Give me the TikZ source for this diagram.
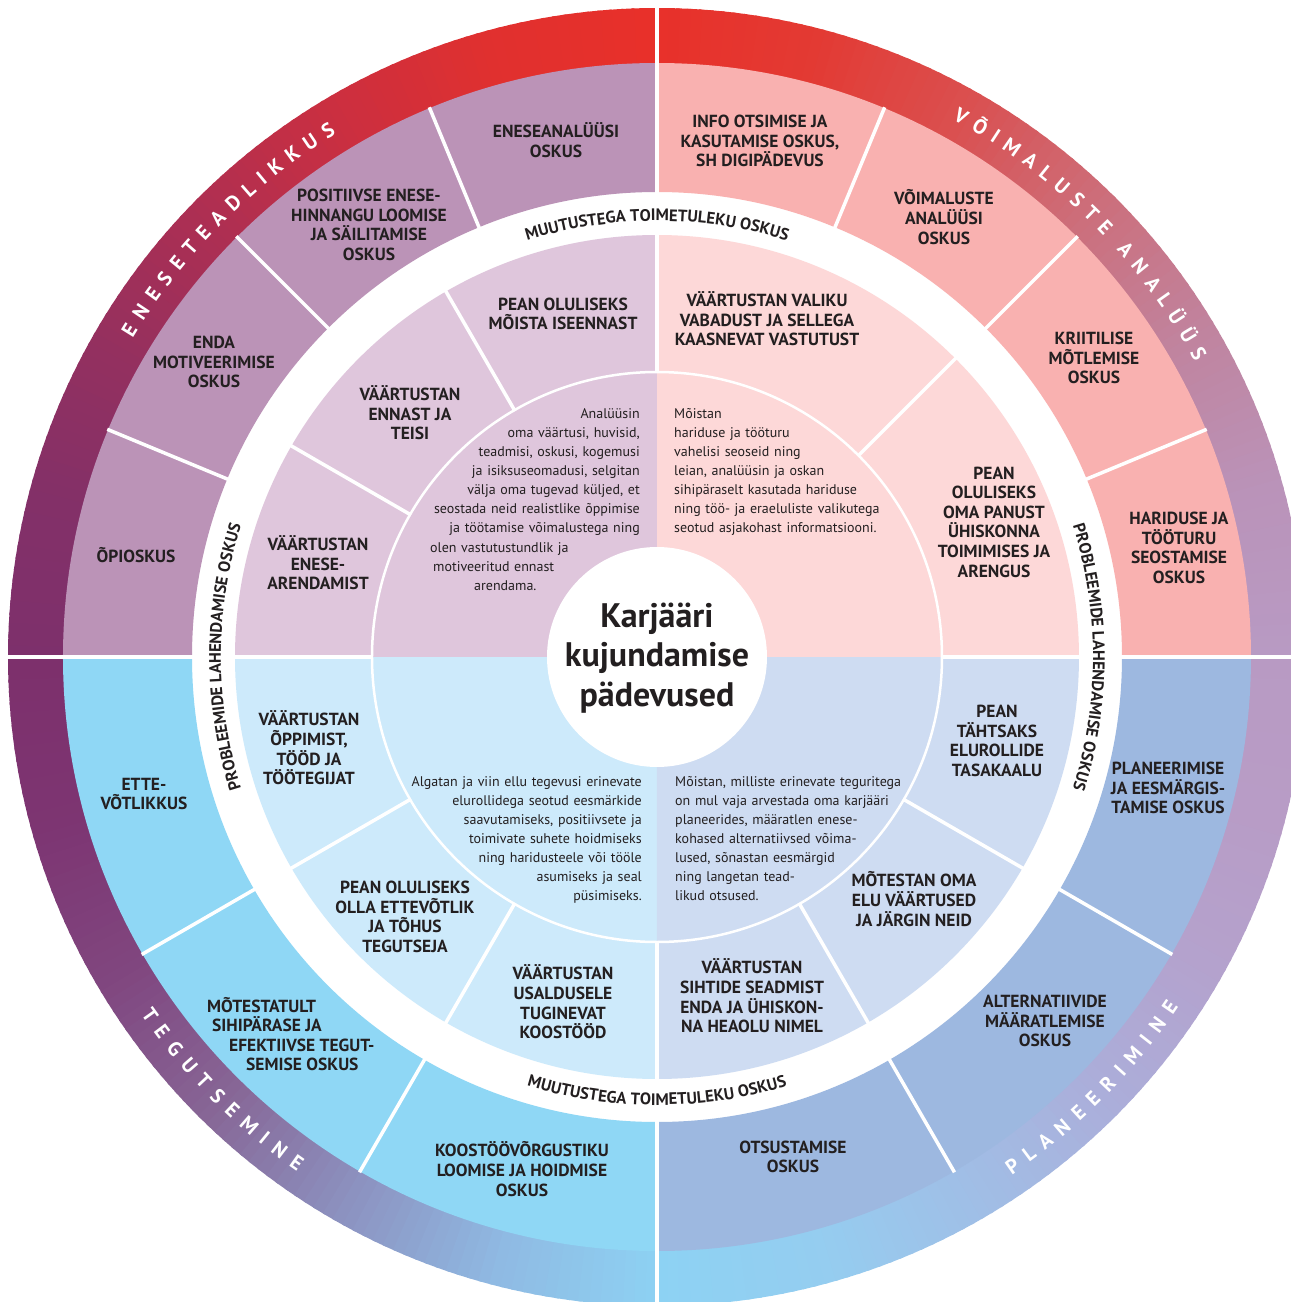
\documentclass[tikz,border=0pt]{standalone}
\usepackage{fontspec}
\setmainfont{PT Sans}
\usetikzlibrary{decorations.text}

\definecolor{ink}{HTML}{231F20}
\definecolor{olTL}{HTML}{BB93B7}
\definecolor{olTR}{HTML}{F9B1B0}
\definecolor{olBR}{HTML}{9DB8E0}
\definecolor{olBL}{HTML}{8FD7F5}
\definecolor{inTL}{HTML}{DFC6DC}
\definecolor{inTR}{HTML}{FDD8D8}
\definecolor{inBR}{HTML}{CEDCF2}
\definecolor{inBL}{HTML}{CDEAFB}
% band key colours every 15 degrees
\definecolor{K0}{HTML}{B89AC3}
\definecolor{K1}{HTML}{BA93B9}
\definecolor{K2}{HTML}{C0849F}
\definecolor{K3}{HTML}{CC6F7C}
\definecolor{K4}{HTML}{DA5050}
\definecolor{K5}{HTML}{E33A33}
\definecolor{K6}{HTML}{E8302A}
\definecolor{K7}{HTML}{E0302F}
\definecolor{K8}{HTML}{CB2F40}
\definecolor{K9}{HTML}{AE2F52}
\definecolor{K10}{HTML}{94305F}
\definecolor{K11}{HTML}{833068}
\definecolor{K12}{HTML}{7D306C}
\definecolor{K13}{HTML}{7D3572}
\definecolor{K14}{HTML}{80467F}
\definecolor{K15}{HTML}{876696}
\definecolor{K16}{HTML}{8C92C0}
\definecolor{K17}{HTML}{8FBAE3}
\definecolor{K18}{HTML}{8DD2F3}
\definecolor{K19}{HTML}{95CDF0}
\definecolor{K20}{HTML}{A0BEE6}
\definecolor{K21}{HTML}{ABAEDA}
\definecolor{K22}{HTML}{B4A2CD}
\definecolor{K23}{HTML}{B89CC6}
\definecolor{K24}{HTML}{B89AC3}

\newcommand\bandsize{20.5}
\newcommand\bandfont{\bfseries\fontsize{20.5}{20.5}\selectfont}
\newcommand\ringfont{\bfseries\fontsize{16.6}{16.6}\selectfont}
\newcommand\bandtrack{9}

% #1 name prefix, #2 mid angle, #3 baseline radius, #4 direction (1 ccw, -1 cw),
% #5 list letter/width(em)
\newcommand\bandtext[5]{%
  \gdef\bandtot{0}%
  \foreach \c/\w in {#5}{%
    \pgfmathsetmacro\bandtmp{\bandtot+\w*\bandsize+\bandtrack}\xdef\bandtot{\bandtmp}}%
  \gdef\bandcum{0}%
  \foreach \c/\w [count=\i] in {#5}{%
    \pgfmathsetmacro\bandoff{\bandcum+\w*\bandsize/2-(\bandtot-\bandtrack)/2}%
    \pgfmathsetmacro\bandang{#2+#4*\bandoff/#3*180/pi}%
    \pgfmathsetmacro\bandrot{\bandang+#4*90}%
    \node[bandletter, rotate=\bandrot] (#1\i) at (\bandang:#3) {\c};%
    \pgfmathsetmacro\bandtmp{\bandcum+\w*\bandsize+\bandtrack}\xdef\bandcum{\bandtmp}%
  }%
}

\begin{document}
\begin{tikzpicture}[x=1pt,y=1pt,
  bandletter/.style={font=\bandfont, text=white, anchor=base, inner sep=0pt},
  lbl/.style={font=\bfseries\fontsize{17.5}{19.6}\selectfont, align=center, text=ink, inner sep=0pt},
  para/.style={font=\fontsize{14}{19.1}\selectfont, text=ink, inner sep=0pt, text width=260pt},
  crossline/.style={white, line width=4.5pt},
  sepline/.style={white, line width=3.5pt},
  ringtext/.style={decorate, decoration={text along path, text align=center, text color=ink}}]
\useasboundingbox (-657,-645) rectangle (634,657);
\clip (-657,-645) rectangle (634,657);
\fill[white] (-657,-645) rectangle (634,657);

% outer gradient band
\foreach \a in {0,...,359}{%
  \pgfmathtruncatemacro\kk{\a/15}%
  \pgfmathtruncatemacro\kn{\kk+1}%
  \pgfmathtruncatemacro\pp{100*(\a-15*\kk)/15}%
  \colorlet{bandc}{K\kn!\pp!K\kk}%
  \fill[bandc] (\a:593) arc[start angle=\a, end angle=\a+1.3, radius=593pt] -- (\a+1.3:649) arc[start angle=\a+1.3, end angle=\a, radius=649pt] -- cycle;
}

% outer segment ring quadrants
\fill[olTR] (0:465) arc[start angle=0, end angle=90, radius=465pt] -- (90:594) arc[start angle=90, end angle=0, radius=594pt] -- cycle;
\fill[olTL] (90:465) arc[start angle=90, end angle=180, radius=465pt] -- (180:594) arc[start angle=180, end angle=90, radius=594pt] -- cycle;
\fill[olBL] (180:465) arc[start angle=180, end angle=270, radius=465pt] -- (270:594) arc[start angle=270, end angle=180, radius=594pt] -- cycle;
\fill[olBR] (270:465) arc[start angle=270, end angle=360, radius=465pt] -- (0:594) arc[start angle=360, end angle=270, radius=594pt] -- cycle;

% inner quadrants
\fill[inTR] (0,0) -- (0:422) arc[start angle=0, end angle=90, radius=422pt] -- cycle;
\fill[inTL] (0,0) -- (90:422) arc[start angle=90, end angle=180, radius=422pt] -- cycle;
\fill[inBL] (0,0) -- (180:422) arc[start angle=180, end angle=270, radius=422pt] -- cycle;
\fill[inBR] (0,0) -- (270:422) arc[start angle=270, end angle=360, radius=422pt] -- cycle;

% white separators
\foreach \a in {0,90,180,270} \draw[crossline] (\a:285) -- (\a:660);
\foreach \a in {22.5,45,67.5,112.5,135,157.5,210,240,300,330} \draw[sepline] (\a:462) -- (\a:595);
\foreach \a in {45,120,150,210,240,300,330} \draw[sepline] (\a:284) -- (\a:424);
\draw[white, line width=2.5pt] (0,0) circle[radius=285pt];
\fill[white] (0,0) circle[radius=110pt];

% ring labels in the white ring
\path[ringtext, decoration={text={|\ringfont|MUUTUSTEGA TOIMETULEKU OSKUS}}] (150:436) arc[start angle=150, end angle=30, radius=436pt];
\path[ringtext, decoration={text={|\ringfont|MUUTUSTEGA TOIMETULEKU OSKUS}}] (210:448) arc[start angle=210, end angle=330, radius=448pt];
\path[ringtext, decoration={text={|\ringfont|PROBLEEMIDE LAHENDAMISE OSKUS}}] (240:436) arc[start angle=240, end angle=120, radius=436pt];
\path[ringtext, decoration={text={|\ringfont|PROBLEEMIDE LAHENDAMISE OSKUS}}] (60:436) arc[start angle=60, end angle=-60, radius=436pt];

% band titles
\renewcommand\bandtrack{8.3}
\bandtext{ba}{135.1}{613.8}{-1}{E/.55,N/.69,E/.55,S/.55,E/.55,T/.56,E/.55,A/.63,D/.67,L/.51,I/.29,K/.62,K/.62,U/.67,S/.55}
\renewcommand\bandtrack{8.0}
\bandtext{bb}{45}{613.8}{-1}{V/.62,Õ/.70,I/.29,M/.81,A/.63,L/.51,U/.67,S/.55,T/.56,E/.55,~/.1,A/.63,N/.69,A/.63,L/.51,Ü/.67,Ü/.67,S/.55}
\renewcommand\bandtrack{9.1}
\bandtext{bc}{224.9}{628}{1}{T/.56,E/.55,G/.64,U/.67,T/.56,S/.55,E/.55,M/.81,I/.29,N/.69,E/.55}
\bandtext{bd}{-44.7}{628}{1}{P/.58,L/.51,A/.63,N/.69,E/.55,E/.55,R/.62,I/.29,M/.81,I/.29,N/.69,E/.55}

% outer ring labels
\node[lbl] (o1) at (-521,102) {ÕPIOSKUS};
\node[lbl] (o2) at (-443,295) {ENDA\\MOTIVEERIMISE\\OSKUS};
\node[lbl] (o3) at (-288,432) {POSITIIVSE ENESE-\\HINNANGU LOOMISE\\JA SÄILITAMISE\\OSKUS};
\node[lbl] (o4) at (-101,517) {ENESEANALÜÜSI\\OSKUS};
\node[lbl] (o5) at (103,516) {INFO OTSIMISE JA\\KASUTAMISE OSKUS,\\SH DIGIPÄDEVUS};
\node[lbl] (o6) at (287,440) {VÕIMALUSTE\\ANALÜÜSI\\OSKUS};
\node[lbl] (o7) at (437,299) {KRIITILISE\\MÕTLEMISE\\OSKUS};
\node[lbl] (o8) at (522,109) {HARIDUSE JA\\TÖÖTURU\\SEOSTAMISE\\OSKUS};
\node[lbl] (o9) at (511,-131) {PLANEERIMISE\\JA EESMÄRGIS-\\TAMISE OSKUS};
\node[lbl] (o10) at (388,-364) {ALTERNATIIVIDE\\MÄÄRATLEMISE\\OSKUS};
\node[lbl] (o11) at (136,-500) {OTSUSTAMISE\\OSKUS};
\node[lbl] (o12) at (-135,-512) {KOOSTÖÖVÕRGUSTIKU\\LOOMISE JA HOIDMISE\\OSKUS};
\node[lbl, align=left, anchor=west] (o13) at (-450,-377) {MÕTESTATULT\\\hspace*{5pt}SIHIPÄRASE JA\\\hspace*{22pt}EFEKTIIVSE TEGUT-\\\hspace*{39pt}SEMISE OSKUS};
\node[lbl] (o14) at (-513,-137) {ETTE-\\VÕTLIKKUS};

% middle ring labels
\node[lbl] (m1) at (-339,94) {VÄÄRTUSTAN\\ENESE-\\ARENDAMIST};
\node[lbl] (m2) at (-247,244) {VÄÄRTUSTAN\\ENNAST JA\\TEISI};
\node[lbl] (m3) at (-94,343) {PEAN OLULISEKS\\MÕISTA ISEENNAST};
\node[lbl] (m4) at (110,338) {VÄÄRTUSTAN VALIKU\\VABADUST JA SELLEGA\\KAASNEVAT VASTUTUST};
\node[lbl] (m5) at (337,135) {PEAN\\OLULISEKS\\OMA PANUST\\ÜHISKONNA\\TOIMIMISES JA\\ARENGUS};
\node[lbl] (m6) at (340,-84) {PEAN\\TÄHTSAKS\\ELUROLLIDE\\TASAKAALU};
\node[lbl] (m7) at (257,-242) {MÕTESTAN OMA\\ELU VÄÄRTUSED\\JA JÄRGIN NEID};
\node[lbl] (m8) at (95,-339) {VÄÄRTUSTAN\\SIHTIDE SEADMIST\\ENDA JA ÜHISKON-\\NA HEAOLU NIMEL};
\node[lbl] (m9) at (-94,-345) {VÄÄRTUSTAN\\USALDUSELE\\TUGINEVAT\\KOOSTÖÖD};
\node[lbl] (m10) at (-252,-260) {PEAN OLULISEKS\\OLLA ETTEVÕTLIK\\JA TÕHUS\\TEGUTSEJA};
\node[lbl] (m11) at (-348,-91) {VÄÄRTUSTAN\\ÕPPIMIST,\\TÖÖD JA\\TÖÖTEGIJAT};

% inner paragraphs
\node[para, align=right, anchor=north east] (p1) at (-17,249) {Analüüsin\\oma väärtusi, huvisid,\\teadmisi, oskusi, kogemusi\\ja isiksuseomadusi, selgitan\\välja oma tugevad küljed, et\\seostada neid realistlike õppimise\\ja töötamise võimalustega ning};
\node[para, align=left, anchor=north west] (p1b) at (-227,115) {olen vastutustundlik ja\\\hspace*{3pt}motiveeritud ennast\\\hspace*{44pt}arendama.};
\node[para, align=left, anchor=north west] (p2) at (17,249) {Mõistan\\hariduse ja tööturu\\vahelisi seoseid ning\\leian, analüüsin ja oskan\\sihipäraselt kasutada hariduse\\ning töö- ja eraeluliste valikutega\\seotud asjakohast informatsiooni.};
\node[para, align=right, anchor=north east] (p3) at (-15,-119) {Algatan ja viin ellu tegevusi erinevate\\elurollidega seotud eesmärkide\\saavutamiseks, positiivsete ja\\toimivate suhete hoidmiseks\\ning haridusteele või tööle\\asumiseks ja seal\\püsimiseks.};
\node[para, align=left, anchor=north west] (p4) at (18,-119) {Mõistan, milliste erinevate teguritega\\on mul vaja arvestada oma karjääri\\planeerides, määratlen enese-\\kohased alternatiivsed võima-\\lused, sõnastan eesmärgid\\ning langetan tead-\\likud otsused.};

% centre title
\node[font=\bfseries\fontsize{34}{39.5}\selectfont, align=center, text=ink, inner sep=0pt] (title) at (0,-1) {Karjääri\\kujundamise\\pädevused};
\end{tikzpicture}
\end{document}
